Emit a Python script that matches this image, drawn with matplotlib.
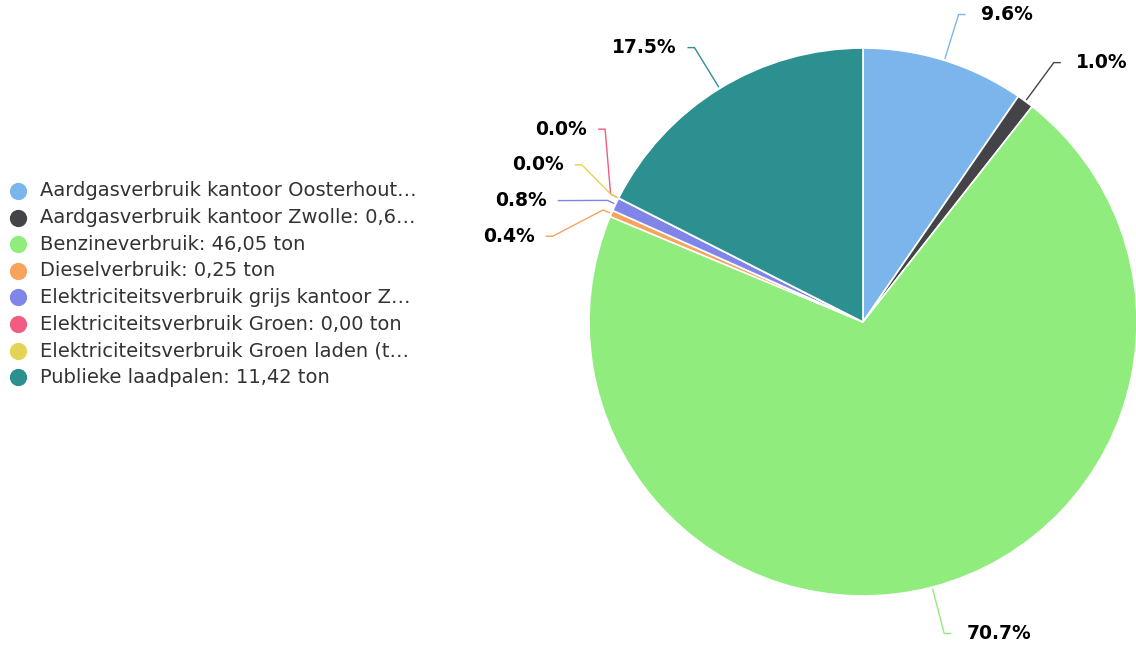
import numpy as np
import matplotlib.pyplot as plt
from matplotlib.path import Path
from matplotlib.patches import PathPatch

# Data (ton CO2 per bron)
labels = [
    'Aardgasverbruik kantoor Oosterhout…',
    'Aardgasverbruik kantoor Zwolle: 0,6…',
    'Benzineverbruik: 46,05 ton',
    'Dieselverbruik: 0,25 ton',
    'Elektriciteitsverbruik grijs kantoor Z…',
    'Elektriciteitsverbruik Groen: 0,00 ton',
    'Elektriciteitsverbruik Groen laden (t…',
    'Publieke laadpalen: 11,42 ton',
]
waarden = [6.25, 0.65, 46.05, 0.25, 0.52, 0.00, 0.00, 11.42]
kleuren = ['#7cb5ec', '#434348', '#90ed7d', '#f7a35c',
           '#8085e9', '#f15c80', '#e4d354', '#2b908f']

W, H = 1136, 646
fig = plt.figure(figsize=(W / 100, H / 100), dpi=100)
ax = fig.add_axes([0, 0, 1, 1])

cx, cy, r = 863, H - 322, 274
ax.pie(waarden, colors=kleuren, startangle=90, counterclock=False,
       center=(cx, cy), radius=r,
       wedgeprops=dict(edgecolor='white', linewidth=1.2))
ax.set_xlim(0, W)
ax.set_ylim(0, H)
ax.set_aspect('equal')
ax.axis('off')

# labels met verbindingslijnen (zoals highcharts)
totaal = sum(waarden)
frac = np.array(waarden) / totaal
eind = np.cumsum(frac)
mid = (eind - frac / 2) * 2 * np.pi
R = r + 48
ny = cy + R * np.cos(mid)
kant = np.where(np.sin(mid) >= 0, 1, -1)


def verdeel(ys, gap):
    clusters = [[y] for y in ys]

    def pos(cl):
        m = np.mean(cl)
        return [m + gap * ((len(cl) - 1) / 2 - i) for i in range(len(cl))]

    veranderd = True
    while veranderd:
        veranderd = False
        for i in range(len(clusters) - 1):
            a, b = pos(clusters[i]), pos(clusters[i + 1])
            if a[-1] - b[0] < gap:
                clusters[i] = clusters[i] + clusters[i + 1]
                del clusters[i + 1]
                veranderd = True
                break
    return [p for cl in clusters for p in pos(cl)]


label_y = np.zeros(len(waarden))
for s in (1, -1):
    idx = [i for i in range(len(waarden)) if kant[i] == s]
    idx.sort(key=lambda i: (-round(ny[i]), i))
    nieuw = verdeel([ny[i] for i in idx], 35.7)
    for i, y in zip(idx, nieuw):
        label_y[i] = y

for i in range(len(waarden)):
    s = kant[i]
    y = label_y[i]
    xc = cx + s * np.sqrt(max(R ** 2 - (y - cy) ** 2, 0))
    raak = [cx + (r + 1.5) * np.sin(mid[i]), cy + (r + 1.5) * np.cos(mid[i])]
    knik = [cx + (r + 9) * np.sin(mid[i]), cy + (r + 9) * np.cos(mid[i])]
    pad = Path([[xc + s * 7, y], [xc, y], knik, raak],
               [Path.MOVETO, Path.LINETO, Path.LINETO, Path.LINETO])
    ax.add_patch(PathPatch(pad, facecolor='none', edgecolor=kleuren[i], lw=1))
    ax.text(xc + s * (22 if s > 0 else 18), y, f'{frac[i] * 100:.1f}%',
            ha='left' if s > 0 else 'right', va='center',
            fontsize=13.5, fontweight='bold', color='black')

# legenda
for i, lab in enumerate(labels):
    y = H - (191 + i * 26.6)
    ax.scatter(18, y, s=130, color=kleuren[i], zorder=3)
    ax.text(40, y, lab, ha='left', va='center', fontsize=14, color='#333333')

fig.savefig('out.png', dpi=100)
